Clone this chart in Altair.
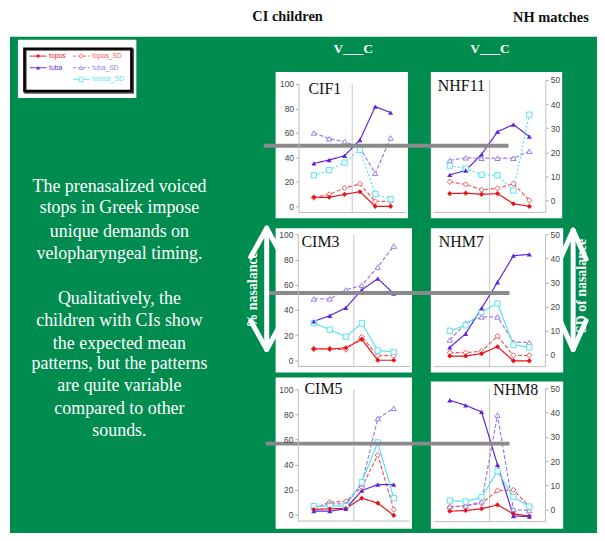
import altair as alt
import pandas as pd

# ---------------- data ----------------
positions = [1, 2, 3, 4, 5, 6]
series_names = ["topos", "topos_SD", "tuba", "tuba_SD", "tomos_SD"]
series_colors = ["#e8141b", "#f25a5a", "#6226d9", "#9b7bea", "#59e3f2"]
series_shapes = ["diamond", "diamond", "triangle-up", "triangle-up", "square"]

cif1_topos = [7.4, 7.4, 9.8, 12.0, 0.0, 0.0]
cif1_topos_sd = [7.1, 9.8, 15.0, 18.3, 4.1, 4.1]
cif1_tuba = [35.1, 37.9, 41.4, 54.2, 81.5, 76.6]
cif1_tuba_sd = [60.0, 55.3, 52.9, 48.0, 27.0, 55.9]
cif1_tomos_sd = [25.3, 29.7, 35.7, 46.3, 10.1, 6.0]

nhf11_topos = [2.8, 3.0, 2.5, 2.8, -1.4, -2.5]
nhf11_topos_sd = [7.7, 6.6, 4.4, 5.0, 6.9, 0.0]
nhf11_tuba = [10.6, 12.4, 19.1, 28.5, 31.5, 26.5]
nhf11_tuba_sd = [16.6, 17.7, 17.5, 17.5, 17.5, 20.4]
nhf11_tomos_sd = [14.4, 13.2, 10.6, 10.4, 4.1, 35.6]

cim3_topos = [9.0, 9.0, 9.8, 16.6, 0.0, 0.0]
cim3_topos_sd = [9.0, 9.0, 8.4, 18.5, 3.7, 3.7]
cim3_tuba = [30.9, 35.4, 41.7, 55.9, 64.9, 53.0]
cim3_tuba_sd = [48.8, 48.8, 55.9, 59.6, 74.1, 90.8]
cim3_tomos_sd = [29.6, 24.3, 18.7, 29.3, 7.7, 6.6]

nhm7_topos = [-0.6, -0.6, 0.4, 3.3, -2.6, -2.6]
nhm7_topos_sd = [0.8, 0.8, 1.4, 7.7, -0.3, -0.3]
nhm7_tuba = [3.0, 8.7, 19.3, 30.1, 41.2, 41.7]
nhm7_tuba_sd = [6.1, 13.0, 15.7, 15.7, 5.2, 5.0]
nhm7_tomos_sd = [9.9, 12.2, 17.7, 21.3, 4.1, 3.0]

cim5_topos = [4.2, 4.8, 5.0, 13.2, 9.3, -0.5]
cim5_topos_sd = [4.8, 10.1, 10.6, 22.0, 47.6, 4.2]
cim5_tuba = [2.9, 2.9, 4.8, 19.3, 24.1, 24.1]
cim5_tuba_sd = [6.1, 8.7, 8.7, 24.6, 76.7, 84.9]
cim5_tomos_sd = [6.9, 6.9, 6.9, 25.9, 57.7, 13.2]

nhm8_topos = [-0.7, -0.4, 0.3, 1.9, -1.8, -2.7]
nhm8_topos_sd = [1.0, 1.5, 2.6, 7.8, 8.1, 1.2]
nhm8_tuba = [45.1, 43.0, 40.3, 18.5, -2.7, -2.9]
nhm8_tuba_sd = [1.2, 1.5, 3.2, 39.0, 0.0, -0.4]
nhm8_tomos_sd = [3.7, 3.3, 5.1, 15.8, 5.1, 1.2]

ci_ticks = [0, 20, 40, 60, 80, 100]
nh_ticks = [0, 10, 20, 30, 40, 50]

left_text = [
    "The prenasalized voiced", "stops in Greek impose", "unique demands on",
    "velopharyngeal timing.", "Qualitatively, the", "children with CIs show",
    "the expected mean", "patterns, but the patterns", "are quite variable",
    "compared to other", "sounds.",
]

panel_series = {
    "CIF1": [cif1_topos, cif1_topos_sd, cif1_tuba, cif1_tuba_sd, cif1_tomos_sd],
    "NHF11": [nhf11_topos, nhf11_topos_sd, nhf11_tuba, nhf11_tuba_sd, nhf11_tomos_sd],
    "CIM3": [cim3_topos, cim3_topos_sd, cim3_tuba, cim3_tuba_sd, cim3_tomos_sd],
    "NHM7": [nhm7_topos, nhm7_topos_sd, nhm7_tuba, nhm7_tuba_sd, nhm7_tomos_sd],
    "CIM5": [cim5_topos, cim5_topos_sd, cim5_tuba, cim5_tuba_sd, cim5_tomos_sd],
    "NHM8": [nhm8_topos, nhm8_topos_sd, nhm8_tuba, nhm8_tuba_sd, nhm8_tomos_sd],
}
dotted_tomos = {"CIF1", "NHF11"}

rows = []
for pname, lists in panel_series.items():
    for sname, vals in zip(series_names, lists):
        if sname in ("topos_SD", "tuba_SD"):
            dash = "dash"
        elif sname == "tomos_SD" and pname in dotted_tomos:
            dash = "dot"
        else:
            dash = "solid"
        for p, v in zip(positions, vals):
            rows.append({"panel": pname, "series": sname, "pos": p, "value": v, "dash": dash})
df = pd.DataFrame(rows)

# ---------------- layout (page pixels) ----------------
W, H = 592, 525
OX, OY = 8, 8
GREEN = "#008c4f"
SERIF = "Liberation Serif"
SANS = "Liberation Sans"


def cx(x):
    return x - OX


def cy(y):
    return y - OY


one = pd.DataFrame({"k": [0]})


def rect(x1, y1, x2, y2, **kw):
    return alt.Chart(one).mark_rect(**kw).encode(
        x=alt.value(cx(x1)), x2=alt.value(cx(x2)), y=alt.value(cy(y1)), y2=alt.value(cy(y2)))


def seg(x1, y1, x2, y2, **kw):
    return alt.Chart(one).mark_rule(**kw).encode(
        x=alt.value(cx(x1)), x2=alt.value(cx(x2)), y=alt.value(cy(y1)), y2=alt.value(cy(y2)))


def txt(s, x, y, **kw):
    return alt.Chart(one).mark_text(text=s, **kw).encode(x=alt.value(cx(x)), y=alt.value(cy(y)))


cscale = alt.Scale(domain=series_names, range=series_colors)
sscale = alt.Scale(domain=series_names, range=series_shapes)
dscale = alt.Scale(domain=["solid", "dash", "dot"], range=[[1, 0], [4, 2], [2, 2]])

panels = [
    dict(name="CIF1", rect=(277, 71, 410, 218), xr=(300, 408), yr=(212.2, 83), ymax=100,
         orient="left", ax=300, ticks=ci_ticks, title=(310, 88, "left")),
    dict(name="NHF11", rect=(433, 71, 565, 218), xr=(436, 548), yr=(212.1, 79), ymax=50,
         orient="right", ax=548, ticks=nh_ticks, title=(440, 85, "left")),
    dict(name="CIM3", rect=(277, 228, 414, 373), xr=(299.3, 411.8), yr=(367, 234.3), ymax=100,
         orient="left", ax=299.3, ticks=ci_ticks, title=(303, 242, "left")),
    dict(name="NHM7", rect=(433, 228, 566, 373), xr=(436, 548), yr=(367.1, 234.3), ymax=50,
         orient="right", ax=547.7, ticks=nh_ticks, title=(441, 242, "left")),
    dict(name="CIM5", rect=(277, 378, 414, 530), xr=(299.3, 411.8), yr=(522.3, 390), ymax=100,
         orient="left", ax=299.3, ticks=ci_ticks, title=(306, 390, "left")),
    dict(name="NHM8", rect=(433, 382, 566, 530), xr=(436, 548), yr=(522.9, 389), ymax=50,
         orient="right", ax=547.7, ticks=nh_ticks, title=(541, 391, "right")),
]


def panel_chart(p):
    d = df[df.panel == p["name"]]
    xs = alt.Scale(domain=[0, 7], range=[cx(p["xr"][0]), cx(p["xr"][1])], nice=False, zero=False)
    ys = alt.Scale(domain=[-5, p["ymax"]], range=[cy(p["yr"][0]), cy(p["yr"][1])], nice=False, zero=False)
    off = -cx(p["ax"]) if p["orient"] == "left" else cx(p["ax"]) - W
    yax = alt.Axis(orient=p["orient"], offset=off, values=p["ticks"], title=None, grid=False,
                   labelFont=SANS, labelFontSize=8.5, labelColor="#444", tickSize=3,
                   tickColor="#aaa", domainColor="#bdbdbd", labelPadding=2, zindex=1)
    X = alt.X("pos:Q", scale=xs, axis=None)
    Y = alt.Y("value:Q", scale=ys, axis=yax)
    base = alt.Chart(d)
    lines = base.mark_line(strokeWidth=1.2).encode(
        x=X, y=Y,
        color=alt.Color("series:N", scale=cscale, legend=None),
        strokeDash=alt.StrokeDash("dash:N", scale=dscale, legend=None),
        detail="series:N")
    filled = base.transform_filter(
        alt.FieldOneOfPredicate(field="series", oneOf=["topos", "tuba"])
    ).mark_point(filled=True, size=26, opacity=1).encode(
        x=X, y=Y,
        color=alt.Color("series:N", scale=cscale, legend=None),
        shape=alt.Shape("series:N", scale=sscale, legend=None))
    opened = base.transform_filter(
        alt.FieldOneOfPredicate(field="series", oneOf=["topos_SD", "tuba_SD", "tomos_SD"])
    ).mark_point(filled=False, fill="white", size=28, strokeWidth=1, opacity=1).encode(
        x=X, y=Y,
        color=alt.Color("series:N", scale=cscale, legend=None),
        shape=alt.Shape("series:N", scale=sscale, legend=None))
    boundary = alt.Chart(one).mark_rule(color="#c8c8c8", strokeWidth=1).encode(
        x=alt.X(datum=3.5, type="quantitative", axis=None),
        y=alt.Y(datum=-5, type="quantitative", axis=yax),
        y2=alt.datum(p["ymax"]))
    xline = alt.Chart(one).mark_rule(color="#bdbdbd", strokeWidth=1).encode(
        x=alt.X(datum=0, type="quantitative", axis=None),
        x2=alt.datum(7),
        y=alt.Y(datum=-5, type="quantitative", axis=yax))
    return alt.layer(boundary, xline, lines, opened, filled)


layers = []
# green slide background
layers.append(rect(10, 35.5, 600, 541, color=GREEN))
# header texts
layers.append(txt("CI children", 289, 16, font=SERIF, fontSize=14.5, fontWeight="bold", color="#111", baseline="middle"))
layers.append(txt("NH matches", 553.7, 17, font=SERIF, fontSize=14.5, fontWeight="bold", color="#111", baseline="middle"))
layers.append(txt("V___C", 355, 48, font=SERIF, fontSize=13.5, fontWeight="bold", color="white", baseline="middle"))
layers.append(txt("V___C", 492.5, 48, font=SERIF, fontSize=13.5, fontWeight="bold", color="white", baseline="middle"))

# legend box
layers.append(rect(18, 38.5, 137, 97, color="white"))
layers.append(rect(25.5, 48.5, 133.5, 91.5, fill="none", stroke="#555", strokeWidth=2.5))
layers.append(rect(24.5, 47.5, 132, 90, fill="none", stroke="black", strokeWidth=2.5))
legend_rows = [55, 66.7, 78.3]
legend_cols = [(30, 46.7, 38.3, 49.3), (73.3, 90, 81.7, 92.7)]
legend_place = {"topos": (0, 0), "tuba": (0, 1), "topos_SD": (1, 0), "tuba_SD": (1, 1), "tomos_SD": (1, 2)}
legend_dash = {"topos": [1, 0], "tuba": [1, 0], "topos_SD": [3, 2], "tuba_SD": [3, 2], "tomos_SD": [1, 0]}
for sname, col, shp in zip(series_names, series_colors, series_shapes):
    ci, ri = legend_place[sname]
    x1, x2, xm, xt = legend_cols[ci]
    yy = legend_rows[ri]
    layers.append(seg(x1, yy, x2, yy, color=col, strokeWidth=1, strokeDash=legend_dash[sname]))
    is_filled = sname in ("topos", "tuba")
    if is_filled:
        layers.append(alt.Chart(one).mark_point(shape=shp, filled=True, color=col, size=16, opacity=1).encode(
            x=alt.value(cx(xm)), y=alt.value(cy(yy))))
    else:
        layers.append(alt.Chart(one).mark_point(shape=shp, filled=False, fill="white", color=col, size=18,
                                                strokeWidth=0.8, opacity=1).encode(
            x=alt.value(cx(xm)), y=alt.value(cy(yy))))
    layers.append(txt(sname, xt, yy, font=SANS, fontSize=6.8, color=col, align="left", baseline="middle"))

# left explanatory text
text_y = [187, 208, 232, 254, 299, 321, 344, 365, 387, 410, 432]
for line, yy in zip(left_text, text_y):
    layers.append(txt(line, 120, yy, font=SERIF, fontSize=18, color="white", baseline="middle"))

# white panels, data panels and titles
for p in panels:
    x1, y1, x2, y2 = p["rect"]
    layers.append(rect(x1, y1, x2, y2, color="white"))
for p in panels:
    layers.append(panel_chart(p))
    tx, ty, al = p["title"]
    layers.append(txt(p["name"], tx, ty, font=SERIF, fontSize=16, color="#111", align=al, baseline="middle"))

# gray horizontal bars
layers.append(seg(265, 145, 511, 145, color="#8a8a8a", strokeWidth=4))
layers.append(seg(267, 293, 512, 293, color="#8a8a8a", strokeWidth=4))
layers.append(seg(267, 444.5, 512, 444.5, color="#8a8a8a", strokeWidth=4))

# rotated axis captions
layers.append(txt("% nasalance", 254, 290, font=SERIF, fontSize=14, fontWeight="bold", color="white",
                  angle=270, baseline="middle"))
layers.append(txt("SD of nasalance", 585, 286, font=SERIF, fontSize=14, fontWeight="bold", color="white",
                  angle=270, baseline="middle"))

# double-headed arrows
for ax_, top, bot, half in [(268, 228, 350, 16), (576, 230, 350, 13)]:
    layers.append(seg(ax_, top + 2, ax_, bot - 2, color="white", strokeWidth=5))
    layers.append(seg(ax_, top, ax_ - half, top + 29, color="white", strokeWidth=5, strokeCap="round"))
    layers.append(seg(ax_, top, ax_ + half, top + 29, color="white", strokeWidth=5, strokeCap="round"))
    layers.append(seg(ax_, bot, ax_ - half, bot - 29, color="white", strokeWidth=5, strokeCap="round"))
    layers.append(seg(ax_, bot, ax_ + half, bot - 29, color="white", strokeWidth=5, strokeCap="round"))

chart = alt.layer(*layers).resolve_scale(
    x="independent", y="independent"
).properties(
    width=W, height=H, background="white", padding=0, autosize=alt.AutoSizeParams(type="none")
).configure_view(stroke=None)

chart.save("out.html", embed_options={"renderer": "svg", "actions": False})
